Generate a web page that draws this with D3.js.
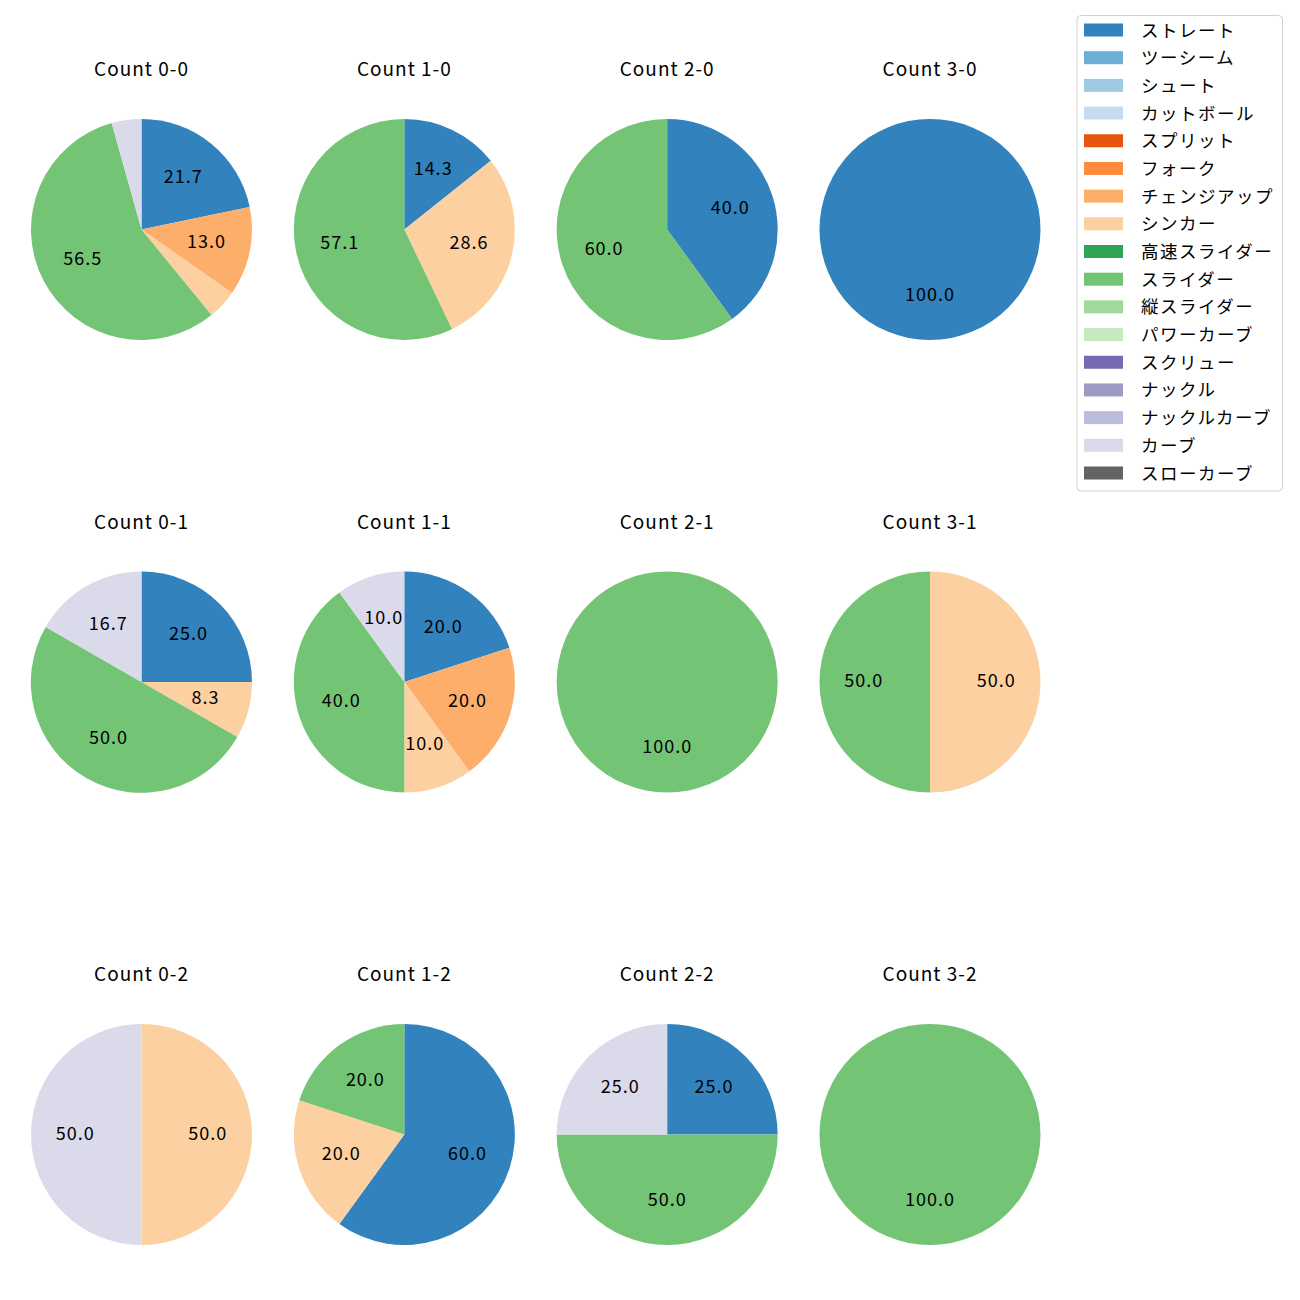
<!DOCTYPE html>
<html><head><meta charset="utf-8">
<script src="https://cdn.jsdelivr.net/npm/d3@7"></script>
<style>body{margin:0;background:#fff;}svg{display:block;font-family:"Noto Sans CJK JP","Noto Sans",sans-serif;}</style>
</head><body>
<script>
const pitchTypes = ["ストレート","ツーシーム","シュート","カットボール","スプリット","フォーク","チェンジアップ","シンカー","高速スライダー","スライダー","縦スライダー","パワーカーブ","スクリュー","ナックル","ナックルカーブ","カーブ","スローカーブ"];
const pitchColors = ["#3182bd","#6baed6","#9ecae1","#c6dbef","#e6550d","#fd8d3c","#fdae6b","#fdd0a2","#31a354","#74c476","#a1d99b","#c7e9c0","#756bb1","#9e9ac8","#bcbddc","#dadaeb","#636363"];
const counts = ["0-0","1-0","2-0","3-0","0-1","1-1","2-1","3-1","0-2","1-2","2-2","3-2"];
// values per count: [type, percent]
const count00 = [["ストレート",21.7],["チェンジアップ",13.0],["シンカー",4.35],["スライダー",56.5],["カーブ",4.35]];
const count10 = [["ストレート",14.3],["シンカー",28.6],["スライダー",57.1]];
const count20 = [["ストレート",40.0],["スライダー",60.0]];
const count30 = [["ストレート",100.0]];
const count01 = [["ストレート",25.0],["シンカー",8.3],["スライダー",50.0],["カーブ",16.7]];
const count11 = [["ストレート",20.0],["チェンジアップ",20.0],["シンカー",10.0],["スライダー",40.0],["カーブ",10.0]];
const count21 = [["スライダー",100.0]];
const count31 = [["シンカー",50.0],["スライダー",50.0]];
const count02 = [["シンカー",50.0],["カーブ",50.0]];
const count12 = [["ストレート",60.0],["シンカー",20.0],["スライダー",20.0]];
const count22 = [["ストレート",25.0],["スライダー",50.0],["カーブ",25.0]];
const count32 = [["スライダー",100.0]];
const countData = [count00,count10,count20,count30,count01,count11,count21,count31,count02,count12,count22,count32];

const W=1300,H=1300;
const svg=d3.select("body").append("svg").attr("width",W).attr("height",H);
const color=d3.scaleOrdinal().domain(pitchTypes).range(pitchColors);
const colX=d3.scalePoint().domain([0,1,2,3]).range([141.5,930]);
const rowY=d3.scalePoint().domain([0,1,2]).range([229.5,1134.5]);
const R=110.5;
const pie=d3.pie().sort(null).value(d=>d[1]).startAngle(0).endAngle(2*Math.PI);
const arc=d3.arc().innerRadius(0).outerRadius(R);

countData.forEach((data,i)=>{
  const cx=colX(i%4), cy=rowY(Math.floor(i/4));
  const g=svg.append("g").attr("transform",`translate(${cx},${cy})`);
  const arcs=pie(data);
  g.selectAll("path").data(arcs).join("path").attr("d",arc).attr("fill",d=>color(d.data[0]));
  g.selectAll("text.lbl").data(arcs.filter(d=>d.data[1]>=5)).join("text").attr("class","lbl")
    .attr("transform",d=>{
      const a=(d.startAngle+d.endAngle)/2;
      const x=Math.sin(a)*R*0.6, y=-Math.cos(a)*R*0.6 - 3;
      return `translate(${x},${y})`;})
    .attr("text-anchor","middle").attr("dominant-baseline","central")
    .attr("font-size",18).attr("letter-spacing",1).attr("fill","#000").text(d=>d.data[1].toFixed(1));
  svg.append("text").attr("x",cx).attr("y",cy-162).attr("text-anchor","middle")
    .attr("dominant-baseline","central").attr("font-size",19).attr("letter-spacing",1).attr("fill","#000").text("Count "+counts[i]);
});

// legend
const lg=svg.append("g");
lg.append("rect").attr("x",1077).attr("y",15.5).attr("width",205.5).attr("height",475.5).attr("rx",4)
  .attr("fill","#fff").attr("stroke","#d0d0d0").attr("stroke-width",1);
const ly=d3.scaleLinear().domain([0,16]).range([30,473]);
pitchTypes.forEach((t,i)=>{
  lg.append("rect").attr("x",1084).attr("y",ly(i)-6.5).attr("width",39).attr("height",13).attr("fill",color(t));
  lg.append("text").attr("x",1141).attr("y",ly(i)-1).attr("dominant-baseline","central")
    .attr("font-size",17.5).attr("letter-spacing",1.5).attr("fill","#000").text(t);
});
</script>
</body></html>
